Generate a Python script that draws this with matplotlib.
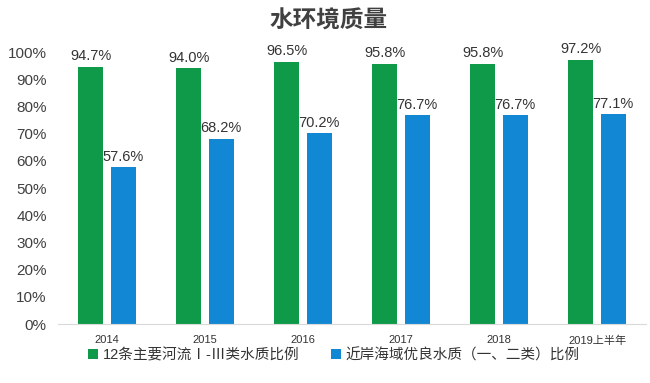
import numpy as np
import matplotlib.pyplot as plt

plt.rcParams['font.family'] = ['Liberation Sans', 'Noto Sans CJK SC', 'DejaVu Sans']

years = ['2014', '2015', '2016', '2017', '2018', '2019上半年']
rivers = [94.7, 94.0, 96.5, 95.8, 95.8, 97.2]
coast = [57.6, 68.2, 70.2, 76.7, 76.7, 77.1]
yticks = [0, 10, 20, 30, 40, 50, 60, 70, 80, 90, 100]

green = '#0e9a48'
blue = '#1288d4'

fig = plt.figure(figsize=(6.5, 3.83), dpi=100)
ax = fig.add_axes([0.089, 0.154, 0.905, 0.71])

x = np.arange(len(years))
w = 0.255
off = 0.165
b1 = ax.bar(x - off, rivers, w, color=green, label='12条主要河流Ⅰ-Ⅲ类水质比例')
b2 = ax.bar(x + off, coast, w, color=blue, label='近岸海域优良水质（一、二类）比例')

for bars, vals in ((b1, rivers), (b2, coast)):
    for b, v in zip(bars, vals):
        ax.text(b.get_x() + b.get_width() / 2, v + 1.2, f'{v:.1f}%',
                ha='center', va='bottom', fontsize=10.5, color='#333333')

ax.set_xlim(-0.5, len(years) - 0.5)
ax.set_ylim(0, 100)
ax.set_yticks(yticks)
ax.set_yticklabels([f'{t}%' for t in yticks], fontsize=11, color='#404040')
ax.set_xticks(x)
ax.set_xticklabels(years, fontsize=8, color='#333333')
ax.tick_params(length=0, pad=8)
for t in ax.get_xticklabels():
    t.set_family(['Liberation Sans', 'Noto Sans CJK SC'])
for s in ('top', 'right', 'left'):
    ax.spines[s].set_visible(False)
ax.spines['bottom'].set_color('#d9d9d9')

fig.text(0.505, 0.945, '水环境质量', ha='center', va='center', fontsize=17,
         fontweight='bold', color='#404040', family=['Noto Sans CJK SC'])

leg = fig.legend(loc='center left', bbox_to_anchor=(0.115, 0.073), ncol=2,
                 frameon=False, fontsize=10.5, handlelength=0.7, handleheight=0.7,
                 handletextpad=0.3, columnspacing=2.2)
for t in leg.get_texts():
    t.set_color('#333333')
    t.set_family(['Liberation Sans', 'Noto Sans CJK SC'])

plt.savefig('out.png', dpi=100)
